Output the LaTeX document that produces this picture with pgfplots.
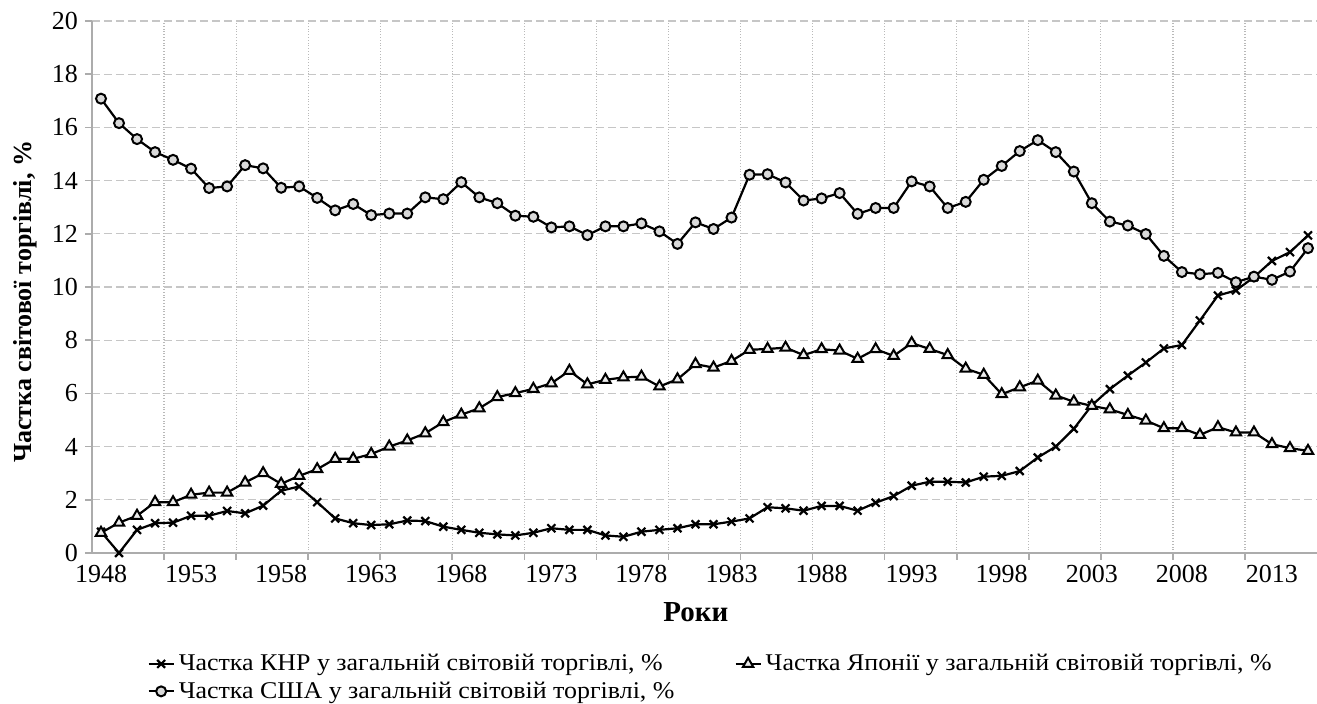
\documentclass[border=0pt]{standalone}
\usepackage{pgfplots}
\pgfplotsset{compat=1.18}
\usepackage{pgfplotstable}
\usepackage{fontspec}
\setmainfont{Liberation Serif}
\newfontfamily\legfont{Liberation Serif}[FakeStretch=1.08]

\pgfplotstableread{
year china japan usa
1948 0.80 0.76 17.08
1949 0.00 1.14 16.16
1950 0.87 1.40 15.56
1951 1.12 1.91 15.07
1952 1.14 1.91 14.78
1953 1.40 2.19 14.45
1954 1.40 2.27 13.72
1955 1.58 2.27 13.78
1956 1.49 2.65 14.58
1957 1.78 3.00 14.46
1958 2.34 2.60 13.73
1959 2.50 2.90 13.78
1960 1.91 3.15 13.35
1961 1.30 3.54 12.88
1962 1.12 3.54 13.12
1963 1.05 3.72 12.70
1964 1.08 4.00 12.76
1965 1.22 4.23 12.76
1966 1.20 4.50 13.37
1967 0.99 4.92 13.30
1968 0.87 5.20 13.94
1969 0.76 5.44 13.37
1970 0.70 5.86 13.15
1971 0.66 6.01 12.68
1972 0.76 6.17 12.64
1973 0.93 6.38 12.24
1974 0.87 6.85 12.28
1975 0.87 6.34 11.95
1976 0.66 6.51 12.28
1977 0.61 6.60 12.28
1978 0.80 6.63 12.39
1979 0.87 6.26 12.09
1980 0.93 6.53 11.62
1981 1.08 7.10 12.43
1982 1.08 6.97 12.18
1983 1.18 7.22 12.61
1984 1.30 7.64 14.22
1985 1.72 7.67 14.24
1986 1.68 7.72 13.93
1987 1.59 7.44 13.25
1988 1.77 7.66 13.33
1989 1.77 7.61 13.53
1990 1.59 7.30 12.75
1991 1.89 7.66 12.97
1992 2.14 7.41 12.97
1993 2.53 7.89 13.97
1994 2.68 7.67 13.78
1995 2.68 7.44 12.97
1996 2.65 6.93 13.20
1997 2.87 6.70 14.03
1998 2.90 5.97 14.55
1999 3.08 6.23 15.11
2000 3.59 6.48 15.52
2001 4.00 5.92 15.07
2002 4.67 5.69 14.34
2003 5.55 5.53 13.15
2004 6.16 5.40 12.46
2005 6.67 5.19 12.31
2006 7.16 4.98 11.99
2007 7.69 4.69 11.17
2008 7.82 4.69 10.56
2009 8.74 4.44 10.48
2010 9.68 4.73 10.53
2011 9.87 4.53 10.18
2012 10.37 4.53 10.39
2013 10.98 4.09 10.27
2014 11.31 3.94 10.58
2015 11.94 3.84 11.46
}\data

\begin{document}
\begin{tikzpicture}
\begin{axis}[
  scale only axis,
  width=612.5pt, height=266pt,
  xmin=1947.5, xmax=2015.5,
  ymin=0, ymax=20,
  axis x line=bottom, axis y line=left,
  axis line style={-, draw=gray!65, line width=0.9pt},
  xtick={1948,1953,1958,1963,1968,1973,1978,1983,1988,1993,1998,2003,2008,2013},
  xticklabels={1948,1953,1958,1963,1968,1973,1978,1983,1988,1993,1998,2003,2008,2013},
  every major x tick/.append style={draw=none},
  minor xtick={1951.5,1955.5,...,2011.5},
  every minor x tick/.append style={draw=gray!65, line width=0.8pt},
  xminorgrids=true,
  minor x grid style={gray!55, densely dotted, line width=0.6pt},
  ytick={0,2,...,20},
  ymajorgrids=true,
  major y grid style={gray!45, dash pattern=on 4pt off 2pt, line width=0.6pt},
  every major y tick/.append style={draw=gray!65, line width=0.8pt},
  tick align=outside,
  major tick length=3.5pt, minor tick length=3.5pt,
  tick label style={font=\fontsize{13}{15}\selectfont},
  xticklabel style={yshift=1pt},
  /pgf/number format/assume math mode=true,
  every axis y label/.style={at={(axis description cs:-0.0547,0.472)}, rotate=90, anchor=center, font=\bfseries\fontsize{13}{15}\selectfont},
  ylabel={Частка світової торгівлі, \%},
  every axis x label/.style={at={(axis description cs:0.493,-0.111)}, anchor=center, font=\bfseries\fontsize{14.5}{16}\selectfont},
  xlabel={Роки},
  clip mode=individual,
  legend columns=2,
  legend cell align=left,
  legend style={at={(axis description cs:0.045,-0.182)}, anchor=north west, draw=none, fill=none,
    font=\legfont\fontsize{12}{14}\selectfont, inner sep=0pt,
    /tikz/every even column/.append style={column sep=28pt}},
  legend image code/.code={\draw[mark repeat=2,mark phase=2,#1] plot coordinates {(0cm,0cm) (0.22cm,0cm) (0.44cm,0cm)};},
]
\addplot[black, line width=1.1pt, mark=x, mark size=2.8pt, mark options={line width=1.1pt}] table[x=year, y=china] {\data};
\addlegendentry{Частка КНР у загальній світовій торгівлі, \%}
\addplot[black, line width=1.1pt, mark=triangle*, mark size=3pt, mark options={fill=gray!15, draw=black, line width=1pt}] table[x=year, y=japan] {\data};
\addlegendentry{Частка Японії у загальній світовій торгівлі, \%}
\addplot[black, line width=1.1pt, mark=*, mark size=2.5pt, mark options={fill=gray!30, draw=black, line width=1pt}] table[x=year, y=usa] {\data};
\addlegendentry{Частка США у загальній світовій торгівлі, \%}
\end{axis}
\pgfresetboundingbox
\useasboundingbox ([xshift=-46pt,yshift=-75.5pt]current axis.south west) rectangle ([yshift=10.5pt]current axis.north east);
\end{tikzpicture}
\end{document}
